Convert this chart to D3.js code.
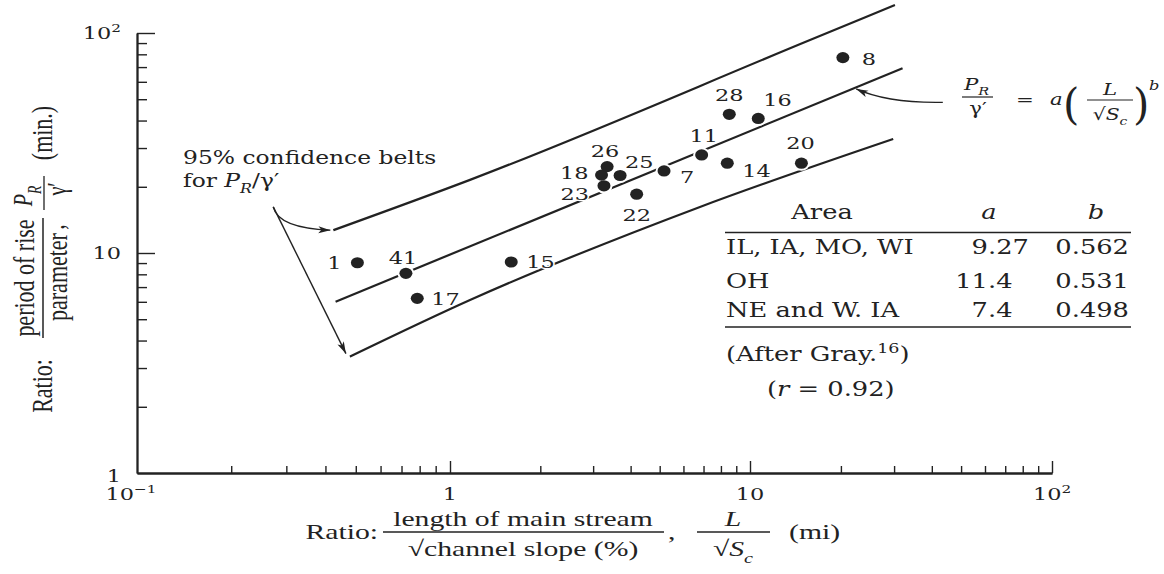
<!DOCTYPE html>
<html><head><meta charset="utf-8">
<script src="https://cdn.jsdelivr.net/npm/d3@7"></script>
<style>
html,body{margin:0;padding:0;background:#fff;}
svg{display:block;}
text{fill:#222;font-family:"DejaVu Serif",serif;}
</style></head><body>
<svg id="chart" width="1164" height="574"></svg>
<script>
// ---------- data ----------
const siteIds     = ["1","41","17","15","18","26","25","23","22","7","11","14","28","16","20","8"];
const lengthRatio = [0.506,0.723,0.786,1.60,3.20,3.34,3.69,3.26,4.19,5.17,6.90,8.40,8.53,10.65,14.8,20.3];
const riseRatio   = [9.03,8.08,6.22,9.10,22.6,24.7,22.5,20.2,18.5,23.6,27.9,25.6,42.7,40.9,25.6,77.3];
const regressionLine = [[0.431,6.01],[32.0,69.1]];
const upperBelt = [[0.424,12.7],[1.166,21.5],[15.8,92.9],[30.2,134]];
const lowerBelt = [[0.479,3.38],[1.166,6.11],[6.81,16.2],[29.8,33.0]];
const xDecades = [0.1,1,10,100];
const yDecades = [1,10,100];
const xTickExp = ["−1","0","1","2"];
const yTickExp = ["0","1","2"];
const tableHeader = ["Area","a","b"];
const tableAreas  = ["IL, IA, MO, WI","OH","NE and W. IA"];
const tableA      = ["9.27","11.4","7.4"];
const tableB      = ["0.562","0.531","0.498"];
const beltAnchor  = [0.2725,16.2];   // tail of the "confidence belts" arrows
const formulaAnchor = [43.5,48.4];   // tail of the formula arrow
const formulaTarget = 22.3;          // x where formula arrow meets the regression line

// ---------- layout ----------
const svg = d3.select("#chart");
const INK = "#222";
const SX = 1.32;
const x = d3.scaleLog().domain(xDecades).range([137,450,750,1052]);
const y = d3.scaleLog().domain(yDecades).range([473,253,33]);

const defs = svg.append("defs");
defs.append("marker").attr("id","arr").attr("viewBox","0 0 12 8").attr("refX",12).attr("refY",4)
  .attr("markerWidth",12).attr("markerHeight",8).attr("markerUnits","userSpaceOnUse").attr("orient","auto")
  .append("path").attr("d","M0,0.5 L12,4 L0,7.5 L3,4 Z").attr("fill",INK);

function label(parent, px, py, size, anchor, sx, family){
  const g = parent.append("g").attr("transform",`translate(${px},${py}) scale(${sx==null?SX:sx},1)`);
  const t = g.append("text").attr("font-size",size).attr("text-anchor",anchor||"start");
  if (family) t.style("font-family",family);
  return t;
}
function rlabel(parent, px, py, size, anchor, sx, family){
  const g = parent.append("g").attr("transform",`translate(${px},${py}) rotate(-90) scale(1,${sx==null?SX:sx})`);
  const t = g.append("text").attr("font-size",size).attr("text-anchor",anchor||"middle");
  if (family) t.style("font-family",family);
  return t;
}
function rich(t, parts, size){
  let shift = 0;
  parts.forEach(p=>{
    const s = t.append("tspan").text(p.t);
    if (p.i) s.attr("font-style","italic");
    const target = p.sub ? size*0.32 : p.sup ? -size*0.42 : 0;
    if (p.sub||p.sup) s.attr("font-size", size*0.68);
    if (target!==shift){ s.attr("dy", target-shift); shift = target; }
  });
  return t;
}

// ---------- axes ----------
const allX = x.ticks();
const allY = y.ticks();
const isMajor = v => Math.abs(Math.log10(v)-Math.round(Math.log10(v)))<1e-9;
const gx = svg.append("g").attr("transform",`translate(0,${y(1)})`);
gx.call(d3.axisBottom(x).tickValues(allX.filter(v=>!isMajor(v))).tickSize(-7).tickSizeOuter(0).tickFormat(""));
gx.call(g=>g.append("g").call(d3.axisBottom(x).tickValues(xDecades.slice(1)).tickSize(-12).tickSizeOuter(0).tickFormat("")));
const gy = svg.append("g").attr("transform",`translate(${x(0.1)},0)`);
gy.call(d3.axisLeft(y).tickValues(allY.filter(v=>!isMajor(v))).tickSize(-10).tickSizeOuter(0).tickFormat(""));
gy.call(g=>g.append("g").call(d3.axisLeft(y).tickValues(yDecades.slice(1)).tickSize(-18).tickSizeOuter(0).tickFormat("")));
svg.selectAll(".domain").attr("stroke",INK).attr("stroke-width",1.8);
svg.selectAll(".tick line").attr("stroke",INK).attr("stroke-width",1.4);

// tick labels
xDecades.forEach((v,i)=>{
  const t = label(svg, x(v)-(i===0?6:0), 500, 17, "middle");
  if (xTickExp[i]==="0") t.text("1");
  else if (xTickExp[i]==="1") t.text("10");
  else rich(t,[{t:"10"},{t:xTickExp[i],sup:true}],17);
});
yDecades.forEach((v,i)=>{
  const t = label(svg, 121, y(v)+(i===0?9:6), 17, "end");
  if (yTickExp[i]==="0") t.text("1");
  else if (yTickExp[i]==="1") t.text("10");
  else rich(t,[{t:"10"},{t:yTickExp[i],sup:true}],17);
});

// axis titles
const TF = "'Liberation Serif','Times New Roman',serif";
const xt = svg.append("g");
label(xt,378,539,22,"end",1.35,TF).text("Ratio:");
label(xt,523,526,22,"middle",1.35,TF).text("length of main stream");
xt.append("line").attr("x1",383).attr("x2",664).attr("y1",532).attr("y2",532).attr("stroke",INK).attr("stroke-width",1.5);
label(xt,523,556,22,"middle",1.35,TF).text("√channel slope (%)");
label(xt,668,539,22,"start",1.35,TF).text(",");
rich(label(xt,733,526,22,"middle",1.35,TF),[{t:"L",i:true}],22);
xt.append("line").attr("x1",697).attr("x2",770).attr("y1",532).attr("y2",532).attr("stroke",INK).attr("stroke-width",1.5);
rich(label(xt,733,556,22,"middle",1.35,TF),[{t:"√"},{t:"S",i:true},{t:"c",i:true,sub:true}],22);
label(xt,789,539,22,"start",1.35,TF).text("(mi)");

const yt = svg.append("g");
rlabel(yt,52,386,22,"middle",1.35,TF).text("Ratio:");
rlabel(yt,34,278,22,"middle",1.35,TF).text("period of rise");
yt.append("line").attr("x1",43).attr("x2",43).attr("y1",218).attr("y2",338).attr("stroke",INK).attr("stroke-width",1.5);
rlabel(yt,67,277,22,"middle",1.35,TF).text("parameter");
rlabel(yt,64,227,22,"middle",1.35,TF).text(",");
rich(rlabel(yt,32,196,20,"middle",1.35,TF),[{t:"P",i:true},{t:"R",i:true,sub:true}],20);
yt.append("line").attr("x1",44).attr("x2",44).attr("y1",176).attr("y2",210).attr("stroke",INK).attr("stroke-width",1.3);
rlabel(yt,66,189,20,"middle",1.35,TF).text("γ′");
rlabel(yt,52,133,22,"middle",1.35,TF).text("(min.)");

// ---------- lines ----------
const lineGen = d3.line().x(d=>x(d[0])).y(d=>y(d[1]));
const curveGen = d3.line().x(d=>x(d[0])).y(d=>y(d[1])).curve(d3.curveMonotoneX);
const plot = svg.append("g");
plot.append("path").attr("d",curveGen(upperBelt)).attr("fill","none").attr("stroke",INK).attr("stroke-width",2.2);
plot.append("path").attr("d",curveGen(lowerBelt)).attr("fill","none").attr("stroke",INK).attr("stroke-width",2.2);
plot.append("path").attr("d",lineGen(regressionLine)).attr("fill","none").attr("stroke",INK).attr("stroke-width",2.2);

// ---------- points ----------
const pts = siteIds.map((id,i)=>({id, px:x(lengthRatio[i]), py:y(riseRatio[i])}));
plot.selectAll(".halo").data(pts).join("ellipse").attr("cx",d=>d.px).attr("cy",d=>d.py)
  .attr("rx",8.5).attr("ry",7.5).attr("fill","#fff");
// label placement (anchor, dx, dy) relative to each point
const labelPlace = {"1":["end",-16,6],"41":["middle",-3,-9],"17":["start",14,7],"15":["start",15,6],
  "18":["end",-13,4],"26":["middle",-2,-10],"25":["start",5,-8],"23":["end",-15,14],"22":["middle",0,27],
  "7":["start",16,12],"11":["middle",2,-13],"14":["start",15,14],"28":["middle",0,-13],"16":["start",5,-12],
  "20":["middle",-1,-14],"8":["start",19,7]};
pts.forEach(d=>{
  const [a,dx,dy] = labelPlace[d.id];
  label(plot,d.px+dx,d.py+dy,17,a).text(d.id)
    .attr("stroke","#fff").attr("stroke-width",2.5).attr("paint-order","stroke");
});
plot.selectAll(".dot").data(pts).join("ellipse").attr("cx",d=>d.px).attr("cy",d=>d.py)
  .attr("rx",6.5).attr("ry",5.6).attr("fill",INK);

// ---------- annotations ----------
const ann = svg.append("g");
label(ann,183,164,18,"start",1.3).text("95% confidence belts");
rich(label(ann,183,187,18,"start",1.3),[{t:"for "},{t:"P",i:true},{t:"R",i:true,sub:true},{t:"/γ′"}],18);
const a0 = [x(beltAnchor[0]), y(beltAnchor[1])];
const u0 = [x(upperBelt[0][0])-3, y(upperBelt[0][1])];
const l0 = [x(lowerBelt[0][0])-4, y(lowerBelt[0][1])-3];
ann.append("path").attr("d",`M${a0[0]},${a0[1]} Q${a0[0]+5},${u0[1]-2} ${u0[0]},${u0[1]}`)
  .attr("fill","none").attr("stroke",INK).attr("stroke-width",1.4).attr("marker-end","url(#arr)");
ann.append("path").attr("d",`M${a0[0]},${a0[1]} L${l0[0]},${l0[1]}`)
  .attr("fill","none").attr("stroke",INK).attr("stroke-width",1.4).attr("marker-end","url(#arr)");

// formula arrow
const lx0 = Math.log10(regressionLine[0][0]), lx1 = Math.log10(regressionLine[1][0]);
const ly0 = Math.log10(regressionLine[0][1]), ly1 = Math.log10(regressionLine[1][1]);
const tY = Math.pow(10, ly0 + (Math.log10(formulaTarget)-lx0)/(lx1-lx0)*(ly1-ly0));
const f0 = [x(formulaAnchor[0]), y(formulaAnchor[1])];
const f1 = [x(formulaTarget)+1, y(tY)+1];
ann.append("path").attr("d",`M${f0[0]},${f0[1]} Q${f0[0]-55},${f0[1]+1} ${f1[0]},${f1[1]}`)
  .attr("fill","none").attr("stroke",INK).attr("stroke-width",1.4).attr("marker-end","url(#arr)");

// formula
rich(label(ann,964,90,17,"start",1.25),[{t:"P",i:true},{t:"R",i:true,sub:true}],17);
ann.append("line").attr("x1",962).attr("x2",993).attr("y1",97).attr("y2",97).attr("stroke",INK).attr("stroke-width",1.2);
label(ann,978,114,17,"middle",1.25).text("γ′");
label(ann,1025,105,17,"middle",1.25).text("=");
rich(label(ann,1050,105,17,"start",1.25),[{t:"a",i:true}],17);
label(ann,1063,119,42,"start",1).text("(");
rich(label(ann,1110,95,17,"middle",1.25),[{t:"L",i:true}],17);
ann.append("line").attr("x1",1087).attr("x2",1133).attr("y1",100).attr("y2",100).attr("stroke",INK).attr("stroke-width",1.2);
rich(label(ann,1110,120,17,"middle",1.2),[{t:"√"},{t:"S",i:true},{t:"c",i:true,sub:true}],17);
label(ann,1133,119,42,"start",1).text(")");
rich(label(ann,1149,90,13,"start",1.25),[{t:"b",i:true}],13);

// ---------- table ----------
const tb = svg.append("g");
const TS = 19.5;
label(tb,822,219,TS,"middle").text(tableHeader[0]);
rich(label(tb,989,219,TS,"middle"),[{t:tableHeader[1],i:true}],TS);
rich(label(tb,1096,219,TS,"middle"),[{t:tableHeader[2],i:true}],TS);
tb.append("line").attr("x1",725).attr("x2",1131).attr("y1",232.5).attr("y2",232.5).attr("stroke",INK).attr("stroke-width",1.6);
const rowY = [254,288,317];
tableAreas.forEach((s,i)=>{
  label(tb,726,rowY[i],TS,"start").text(s);
  const [ip,fp] = tableA[i].split(".");
  label(tb,988,rowY[i],TS,"end").text(ip);
  label(tb,988,rowY[i],TS,"start").text("."+fp);
  label(tb,1129,rowY[i],TS,"end").text(tableB[i]);
});
tb.append("line").attr("x1",725).attr("x2",1131).attr("y1",327).attr("y2",327).attr("stroke",INK).attr("stroke-width",1.6);
rich(label(tb,726,361,TS,"start"),[{t:"(After Gray."},{t:"16",sup:true},{t:")"}],TS);
rich(label(tb,767,396,TS,"start"),[{t:"("},{t:"r",i:true},{t:" = 0.92)"}],TS);
</script>
</body></html>
